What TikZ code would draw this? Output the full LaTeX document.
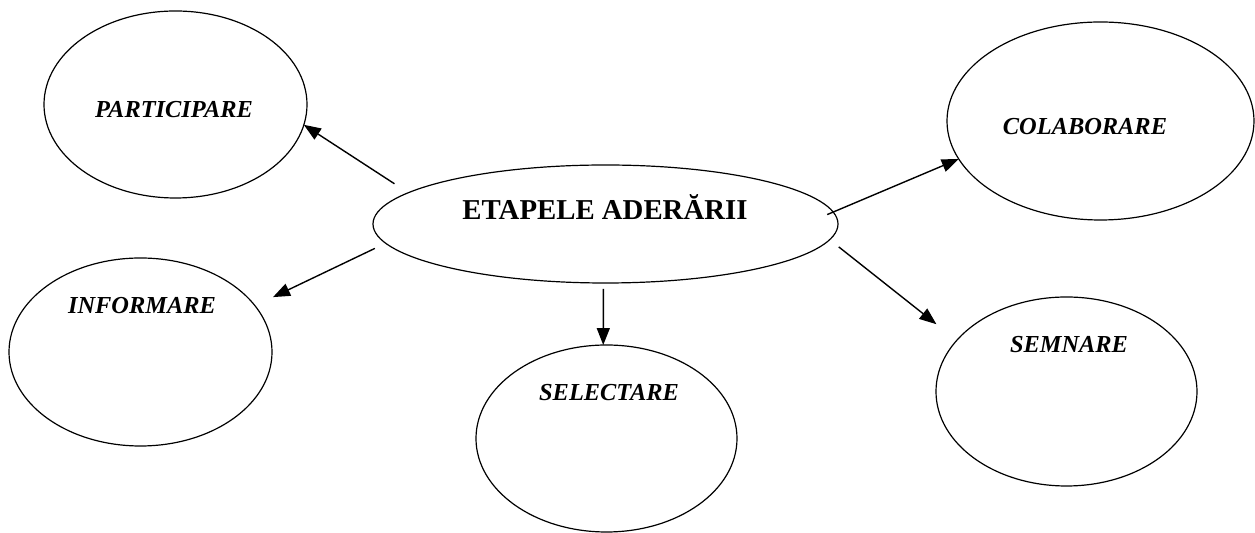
\documentclass[tikz,border=0pt]{standalone}
\usepackage{fontspec}
\setmainfont{Liberation Serif}
\usetikzlibrary{shapes.geometric,arrows.meta}
\begin{document}
\begin{tikzpicture}[x=0.5pt,y=-0.5pt,
    ell/.style={draw,ellipse,line width=0.6pt,inner sep=0pt,outer sep=0pt},
    lbl/.style={font=\fontsize{12.2}{14}\selectfont\bfseries\itshape},
    arr/.style={-{Triangle[length=8.5pt,width=6.5pt]},line width=0.7pt}]
    \useasboundingbox (0,0) rectangle (1255,533);

    % Draw the ellipses
    \node[ell,minimum width=232.5pt,minimum height=59pt] (etapa) at (605.5,224) {};
    \node[ell,minimum width=131.5pt,minimum height=93.5pt] (part) at (175.5,104.5) {};
    \node[ell,minimum width=153.5pt,minimum height=99pt] (colab) at (1100.5,121) {};
    \node[ell,minimum width=131.5pt,minimum height=94pt] (info) at (140.5,352) {};
    \node[ell,minimum width=130.5pt,minimum height=93.5pt] (selec) at (606.5,438.5) {};
    \node[ell,minimum width=130.5pt,minimum height=94.5pt] (semn) at (1066.5,391.5) {};

    % Labels inside the ellipses
    \node[font=\fontsize{14.4}{17}\selectfont\bfseries] (etapaT) at (605,207) {ETAPELE ADERĂRII};
    \node[lbl] (partT) at (174,110) {PARTICIPARE};
    \node[lbl] (colabT) at (1085,127) {COLABORARE};
    \node[lbl] (infoT) at (142,306) {INFORMARE};
    \node[lbl] (selecT) at (609,393) {SELECTARE};
    \node[lbl] (semnT) at (1069,345) {SEMNARE};

    % Arrows from the centre
    \draw[arr,shorten <=8.25pt] (etapa.171.1) -- (part.-9.1);
    \draw[arr,shorten <=6pt,shorten >=10pt] (etapa.-175.2) -- (info.22);
    \draw[arr,shorten <=3pt] (etapa.-92.4) -- (selec.92.1);
    \draw[arr,shorten <=-3.25pt] (etapa.3.65) -- (colab.-165);
    \draw[arr,shorten <=5.8pt,shorten >=13pt] (etapa.-4.93) -- (semn.155.8);
\end{tikzpicture}
\end{document}
